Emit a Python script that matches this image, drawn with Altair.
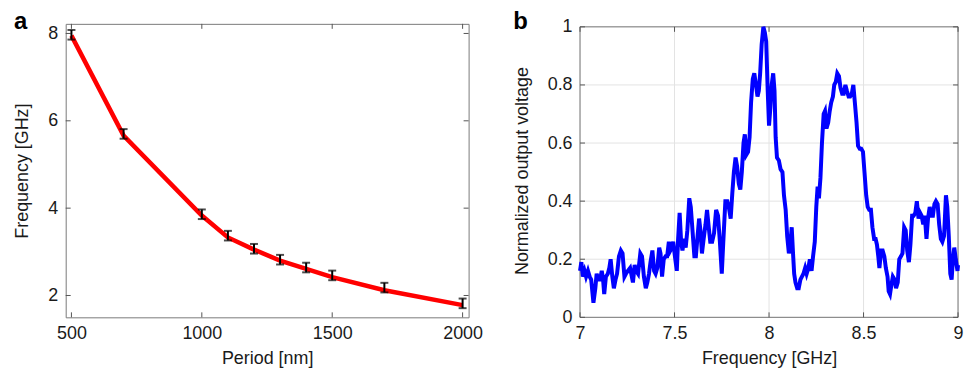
import altair as alt
import pandas as pd

# ---------- panel a data ----------
period_nm = [500, 700, 1000, 1100, 1200, 1300, 1400, 1500, 1700, 2000]
freq_meas = [7.97, 5.70, 3.86, 3.37, 3.07, 2.82, 2.64, 2.46, 2.18, 1.82]
freq_err = [0.11, 0.11, 0.11, 0.11, 0.11, 0.11, 0.11, 0.11, 0.11, 0.11]
freq_fit = [7.95, 5.66, 3.83, 3.33, 3.05, 2.80, 2.61, 2.42, 2.12, 1.78]
a_xticks = [500, 1000, 1500, 2000]
a_yticks = [2, 4, 6, 8]

# ---------- panel b data ----------
b_freq = [
    7.000, 7.007, 7.015, 7.024, 7.032, 7.042, 7.051, 7.059, 7.071, 7.081,
    7.088, 7.098, 7.106, 7.115, 7.122, 7.128, 7.137, 7.147, 7.155, 7.162,
    7.171, 7.179, 7.188, 7.196, 7.206, 7.216, 7.225, 7.235, 7.243, 7.253,
    7.265, 7.274, 7.280, 7.289, 7.297, 7.307, 7.319, 7.328, 7.338, 7.348,
    7.356, 7.365, 7.373, 7.383, 7.392, 7.400, 7.409, 7.419, 7.426, 7.434,
    7.443, 7.453, 7.461, 7.470, 7.478, 7.486, 7.493, 7.502, 7.512, 7.519,
    7.527, 7.535, 7.542, 7.551, 7.559, 7.568, 7.578, 7.586, 7.595, 7.605,
    7.613, 7.622, 7.630, 7.637, 7.645, 7.654, 7.664, 7.672, 7.681, 7.689,
    7.699, 7.709, 7.720, 7.730, 7.740, 7.750, 7.758, 7.769, 7.779, 7.787,
    7.797, 7.806, 7.814, 7.823, 7.831, 7.840, 7.848, 7.856, 7.865, 7.872,
    7.880, 7.889, 7.897, 7.905, 7.914, 7.922, 7.931, 7.939, 7.946, 7.953,
    7.961, 7.970, 7.978, 7.985, 7.993, 8.000, 8.007, 8.014, 8.022, 8.029,
    8.035, 8.042, 8.052, 8.061, 8.071, 8.079, 8.088, 8.096, 8.105, 8.111,
    8.120, 8.127, 8.133, 8.140, 8.149, 8.157, 8.166, 8.174, 8.182, 8.191,
    8.199, 8.208, 8.216, 8.225, 8.233, 8.242, 8.250, 8.257, 8.264, 8.272,
    8.280, 8.289, 8.296, 8.304, 8.313, 8.321, 8.329, 8.338, 8.345, 8.353,
    8.361, 8.370, 8.378, 8.387, 8.395, 8.404, 8.412, 8.421, 8.429, 8.438,
    8.446, 8.454, 8.463, 8.471, 8.480, 8.488, 8.497, 8.505, 8.514, 8.522,
    8.530, 8.539, 8.547, 8.556, 8.564, 8.571, 8.578, 8.584, 8.593, 8.601,
    8.610, 8.618, 8.627, 8.633, 8.640, 8.647, 8.655, 8.664, 8.672, 8.681,
    8.689, 8.698, 8.706, 8.715, 8.723, 8.731, 8.740, 8.748, 8.757, 8.765,
    8.774, 8.782, 8.791, 8.799, 8.807, 8.816, 8.824, 8.833, 8.841, 8.850,
    8.858, 8.867, 8.875, 8.883, 8.892, 8.900, 8.909, 8.917, 8.926, 8.936,
    8.943, 8.951, 8.959, 8.966, 8.973, 8.980, 8.988, 8.997, 9.000,
]
b_volt = [
    0.16, 0.19, 0.14, 0.16, 0.14, 0.16, 0.14, 0.13, 0.05, 0.10,
    0.15, 0.13, 0.13, 0.16, 0.13, 0.08, 0.14, 0.15, 0.17, 0.20,
    0.14, 0.10, 0.13, 0.15, 0.21, 0.23, 0.22, 0.14, 0.15, 0.16,
    0.17, 0.14, 0.12, 0.18, 0.16, 0.15, 0.22, 0.21, 0.14, 0.10,
    0.12, 0.15, 0.19, 0.23, 0.16, 0.15, 0.17, 0.24, 0.22, 0.14,
    0.20, 0.21, 0.21, 0.26, 0.23, 0.24, 0.26, 0.21, 0.16, 0.27,
    0.36, 0.26, 0.23, 0.27, 0.24, 0.30, 0.41, 0.38, 0.30, 0.21,
    0.21, 0.28, 0.34, 0.30, 0.22, 0.27, 0.32, 0.37, 0.31, 0.26,
    0.26, 0.29, 0.37, 0.35, 0.26, 0.15, 0.26, 0.40, 0.40, 0.38,
    0.34, 0.43, 0.50, 0.55, 0.52, 0.46, 0.44, 0.50, 0.60, 0.63,
    0.56, 0.57, 0.62, 0.74, 0.82, 0.84, 0.80, 0.76, 0.78, 0.84,
    0.94, 1.00, 0.98, 0.95, 0.78, 0.66, 0.72, 0.80, 0.84, 0.78,
    0.62, 0.55, 0.54, 0.51, 0.50, 0.42, 0.37, 0.28, 0.22, 0.24,
    0.31, 0.22, 0.15, 0.12, 0.10, 0.10, 0.13, 0.14, 0.15, 0.17,
    0.15, 0.17, 0.20, 0.16, 0.21, 0.26, 0.38, 0.45, 0.41, 0.48,
    0.60, 0.70, 0.71, 0.65, 0.67, 0.71, 0.74, 0.76, 0.80, 0.81,
    0.84, 0.83, 0.79, 0.77, 0.77, 0.80, 0.78, 0.76, 0.76, 0.77,
    0.80, 0.74, 0.67, 0.59, 0.58, 0.58, 0.57, 0.50, 0.42, 0.38,
    0.37, 0.37, 0.31, 0.27, 0.27, 0.25, 0.21, 0.17, 0.23, 0.23,
    0.21, 0.17, 0.14, 0.09, 0.08, 0.11, 0.14, 0.13, 0.10, 0.12,
    0.20, 0.21, 0.22, 0.31, 0.30, 0.23, 0.19, 0.25, 0.35, 0.35,
    0.36, 0.40, 0.34, 0.36, 0.35, 0.32, 0.35, 0.27, 0.34, 0.38,
    0.35, 0.35, 0.39, 0.40, 0.39, 0.32, 0.27, 0.26, 0.28, 0.42,
    0.38, 0.28, 0.15, 0.13, 0.20, 0.24, 0.20, 0.16, 0.18,
]
b_xticks = [7, 7.5, 8, 8.5, 9]
b_yticks = [0, 0.2, 0.4, 0.6, 0.8, 1]

FONT = "Liberation Sans"
TXT = "#1a1a1a"
TICK = "#555555"
FRAME = "#7a7a7a"
GRID = "#e3e3e3"

# ---------- panel a ----------
WA, HA = 405, 295
dfa = pd.DataFrame({"period": period_nm, "meas": freq_meas, "err": freq_err, "fit": freq_fit})
dfa["lo"] = dfa["meas"] - dfa["err"]
dfa["hi"] = dfa["meas"] + dfa["err"]

xa_scale = alt.Scale(domain=[478, 2023], nice=False, zero=False)
ya_scale = alt.Scale(domain=[1.5, 8.22], nice=False, zero=False)
xa_axis = alt.Axis(values=a_xticks, title="Period [nm]", ticks=False, domain=False, grid=False,
                   labelPadding=7, titlePadding=7, labelFlush=False, format="d")
ya_axis = alt.Axis(values=a_yticks, title="Frequency [GHz]", ticks=False, domain=False, grid=False,
                   labelPadding=8, titlePadding=16, format="d")


def xa(f):
    return alt.X(f"{f}:Q", scale=xa_scale, axis=xa_axis)


def ya(f):
    return alt.Y(f"{f}:Q", scale=ya_scale, axis=ya_axis)


base_a = alt.Chart(dfa)
fit_line = base_a.mark_line(color="#ff0000", strokeWidth=4.5).encode(x=xa("period"), y=ya("fit"))
err_rule = base_a.mark_rule(color="black", strokeWidth=2).encode(x=xa("period"), y=ya("lo"), y2="hi:Q")
cap_lo = base_a.mark_tick(color="black", thickness=2, size=8, orient="horizontal").encode(x=xa("period"), y=ya("lo"))
cap_hi = base_a.mark_tick(color="black", thickness=2, size=8, orient="horizontal").encode(x=xa("period"), y=ya("hi"))

axt = pd.DataFrame({"period": a_xticks})
ayt = pd.DataFrame({"fit": a_yticks})
tk_a = [
    alt.Chart(axt).mark_rule(color=TICK).encode(x=xa("period"), y=alt.value(HA), y2=alt.value(HA - 5)),
    alt.Chart(axt).mark_rule(color=TICK).encode(x=xa("period"), y=alt.value(0), y2=alt.value(5)),
    alt.Chart(ayt).mark_rule(color=TICK).encode(y=ya("fit"), x=alt.value(0), x2=alt.value(5)),
    alt.Chart(ayt).mark_rule(color=TICK).encode(y=ya("fit"), x=alt.value(WA), x2=alt.value(WA - 5)),
]
lab_a = alt.Chart(pd.DataFrame({"t": ["a"]})).mark_text(
    fontSize=24, fontWeight="bold", align="left", baseline="alphabetic", font=FONT, color="black"
).encode(text="t:N", x=alt.value(-52), y=alt.value(5))

panel_a = alt.layer(*tk_a, fit_line, err_rule, cap_lo, cap_hi, lab_a).properties(
    width=WA, height=HA, view=alt.ViewBackground(stroke=FRAME, strokeWidth=1)
)

# ---------- panel b ----------
WB, HB = 380, 295
TOPB = 3  # frame of panel b starts 3px below panel a's
dfb = pd.DataFrame({"f": b_freq, "v": b_volt})
xb_scale = alt.Scale(domain=[7, 9], nice=False, zero=False)
yb_scale = alt.Scale(domain=[0, 1.0103], nice=False)
xb_axis = alt.Axis(values=b_xticks, title="Frequency [GHz]", ticks=False, domain=False, grid=False,
                   labelPadding=7, titlePadding=7, labelFlush=False, format="~g")
yb_axis = alt.Axis(values=b_yticks, title="Normalized output voltage", ticks=False, domain=False, grid=False,
                   labelPadding=8, titlePadding=16, format="~g")


def xb(f):
    return alt.X(f"{f}:Q", scale=xb_scale, axis=xb_axis)


def yb(f):
    return alt.Y(f"{f}:Q", scale=yb_scale, axis=yb_axis)


bxt = pd.DataFrame({"f": b_xticks})
byt = pd.DataFrame({"v": b_yticks})
one = pd.DataFrame({"k": [0]})
grid_b = [
    alt.Chart(bxt).mark_rule(color=GRID).encode(x=xb("f"), y=alt.value(TOPB), y2=alt.value(HB)),
    alt.Chart(byt).mark_rule(color=GRID).encode(y=yb("v"), x=alt.value(0), x2=alt.value(WB)),
]
frame_b = [
    alt.Chart(one).mark_rule(color=FRAME).encode(x=alt.value(0), y=alt.value(TOPB), y2=alt.value(HB)),
    alt.Chart(one).mark_rule(color=FRAME).encode(x=alt.value(WB), y=alt.value(TOPB), y2=alt.value(HB)),
    alt.Chart(one).mark_rule(color=FRAME).encode(y=alt.value(TOPB), x=alt.value(0), x2=alt.value(WB)),
    alt.Chart(one).mark_rule(color=FRAME).encode(y=alt.value(HB), x=alt.value(0), x2=alt.value(WB)),
]
tk_b = [
    alt.Chart(bxt).mark_rule(color=TICK).encode(x=xb("f"), y=alt.value(HB), y2=alt.value(HB - 5)),
    alt.Chart(bxt).mark_rule(color=TICK).encode(x=xb("f"), y=alt.value(TOPB), y2=alt.value(TOPB + 5)),
    alt.Chart(byt).mark_rule(color=TICK).encode(y=yb("v"), x=alt.value(0), x2=alt.value(5)),
    alt.Chart(byt).mark_rule(color=TICK).encode(y=yb("v"), x=alt.value(WB), x2=alt.value(WB - 5)),
]
volt_line = alt.Chart(dfb).mark_line(color="#0000ff", strokeWidth=4, clip=False).encode(x=xb("f"), y=yb("v"))
lab_b = alt.Chart(pd.DataFrame({"t": ["b"]})).mark_text(
    fontSize=24, fontWeight="bold", align="left", baseline="alphabetic", font=FONT, color="black"
).encode(text="t:N", x=alt.value(-67), y=alt.value(5))

panel_b = alt.layer(*grid_b, *frame_b, *tk_b, volt_line, lab_b).properties(
    width=WB, height=HB, view=alt.ViewBackground(stroke="transparent")
)

chart = (
    alt.hconcat(panel_a, panel_b, spacing=29)
    .properties(padding={"left": 5, "top": 0, "right": 0, "bottom": 0})
    .configure(font=FONT)
    .configure_axis(labelFontSize=18, titleFontSize=18, titleFontWeight="normal",
                    labelColor=TXT, titleColor=TXT, labelFont=FONT, titleFont=FONT)
)

chart.save("out.html", embed_options={"renderer": "svg", "actions": False})
